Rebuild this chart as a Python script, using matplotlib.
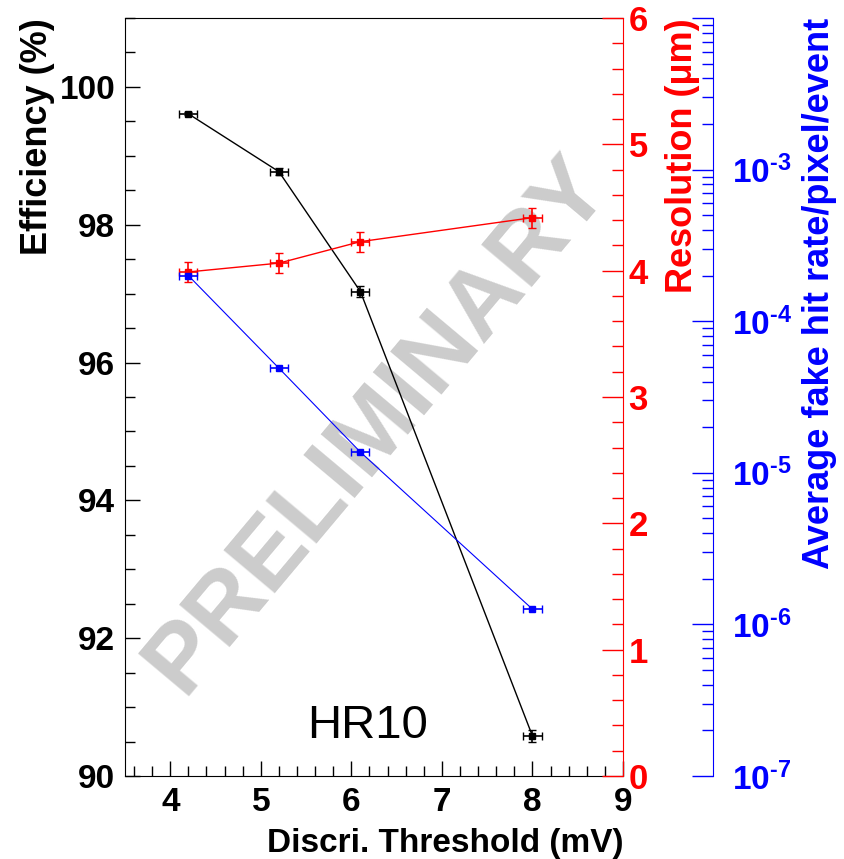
import numpy as np
import matplotlib
matplotlib.use('Agg')
import matplotlib.pyplot as plt
from matplotlib.ticker import MultipleLocator, LogLocator, NullFormatter, FuncFormatter

plt.rcParams['font.family'] = ['Liberation Sans', 'DejaVu Sans']
plt.rcParams['font.weight'] = 'bold'
plt.rcParams['mathtext.fontset'] = 'custom'
plt.rcParams['mathtext.rm'] = 'Liberation Sans:bold'
plt.rcParams['mathtext.bf'] = 'Liberation Sans:bold'
plt.rcParams['mathtext.it'] = 'Liberation Sans:bold'

# measured values for HR10
threshold = [4.2, 5.2, 6.1, 8.0]
thr_err = [0.1, 0.1, 0.1, 0.1]
efficiency = [99.61, 98.77, 97.03, 90.58]
eff_err = [0.02, 0.05, 0.08, 0.09]
resolution = [3.99, 4.06, 4.23, 4.42]
res_err = [0.08, 0.08, 0.08, 0.08]
fake_rate = [2.0e-4, 4.9e-5, 1.37e-5, 1.26e-6]

blue = '#0000ff'
red = '#ff0000'


def log_label(v, pos):
    if v > 0.005:
        return ''
    return '$\\mathbf{10^{\u2010%d}}$' % -int(round(np.log10(v)))


fig = plt.figure(figsize=(8.44, 8.59), dpi=100)
ax1 = fig.add_axes([0.1481, 0.0966, 0.5901, 0.8824])
ax2 = ax1.twinx()
ax3 = ax1.twinx()

# watermark behind everything
ax1.text(6.28, 95.1, 'PRELIMINARY', rotation=50, fontsize=70, color='#cccccc',
         ha='center', va='center', fontweight='bold', zorder=0)
ax1.text(6.18, 90.72, 'HR10', fontsize=34, fontweight='normal', ha='center', va='center')

ax1.errorbar(threshold, efficiency, xerr=thr_err, yerr=eff_err, color='black',
             marker='s', markersize=4, lw=1, capsize=3, elinewidth=1.2)
ax2.errorbar(threshold, resolution, xerr=thr_err, yerr=res_err, color=red,
             marker='s', markersize=4, lw=1, capsize=3, elinewidth=1.2)
ax3.errorbar(threshold, fake_rate, xerr=thr_err, color=blue,
             marker='s', markersize=4, lw=0.8, capsize=3, elinewidth=1.2)

# left axis
ax1.set_xlim(3.5, 9)
ax1.set_ylim(90, 101)
ax1.xaxis.set_major_locator(MultipleLocator(1))
ax1.xaxis.set_minor_locator(MultipleLocator(0.2))
ax1.yaxis.set_major_locator(MultipleLocator(2))
ax1.yaxis.set_minor_locator(MultipleLocator(0.5))
ax1.tick_params(axis='both', which='major', direction='in', length=11, width=1,
                labelsize=24, top=False, right=False)
ax1.tick_params(axis='both', which='minor', direction='in', length=7, width=1,
                top=False, right=False)
ax1.tick_params(axis='x', pad=8)
ax1.tick_params(axis='y', pad=7)
for lab in ax1.get_xticklabels() + ax1.get_yticklabels():
    lab.set_fontweight('bold')
ax1.spines['right'].set_visible(False)
ax1.set_ylabel('Efficiency (%)', fontsize=26, fontweight='bold')
ax1.yaxis.set_label_coords(-0.14, 1.0)
ax1.yaxis.label.set_ha('right')
ax1.set_xlabel('Discri. Threshold (mV)', fontsize=24, fontweight='bold')
ax1.xaxis.set_label_coords(1.0, -0.068)
ax1.xaxis.label.set_ha('right')

# red resolution axis
ax2.set_ylim(0, 6)
ax2.yaxis.set_major_locator(MultipleLocator(1))
ax2.yaxis.set_minor_locator(MultipleLocator(0.2))
for s in ['left', 'top', 'bottom']:
    ax2.spines[s].set_visible(False)
ax2.spines['right'].set_color(red)
ax2.tick_params(axis='y', which='major', direction='in', length=15, width=1,
                colors=red, labelsize=25, pad=4)
ax2.tick_params(axis='y', which='minor', direction='in', length=8, width=1, colors=red)
for lab in ax2.get_yticklabels():
    lab.set_fontweight('bold')
ax2.set_ylabel('Resolution (\u03bcm)', color=red, fontsize=26, fontweight='bold')
ax2.yaxis.set_label_coords(1.084, 1.0)
ax2.yaxis.label.set_ha('right')

# blue fake rate axis
ax3.set_yscale('log')
ax3.set_ylim(1e-7, 1e-2)
ax3.spines['right'].set_position(('axes', 1.1807))
for s in ['left', 'top', 'bottom']:
    ax3.spines[s].set_visible(False)
ax3.spines['right'].set_color(blue)
ax3.yaxis.set_major_locator(LogLocator(base=10, numticks=10))
ax3.yaxis.set_minor_locator(LogLocator(base=10, subs=np.arange(2, 10), numticks=20))
ax3.yaxis.set_minor_formatter(NullFormatter())
ax3.yaxis.set_major_formatter(FuncFormatter(log_label))
ax3.tick_params(axis='y', which='major', direction='in', length=15, width=1,
                colors=blue, labelsize=24, pad=14)
ax3.tick_params(axis='y', which='minor', direction='in', length=8, width=1, colors=blue)
ax3.set_ylabel('Average fake hit rate/pixel/event', color=blue, fontsize=26,
               fontweight='bold')
ax3.yaxis.set_label_coords(1.359, 1.0)
ax3.yaxis.label.set_ha('right')

fig.savefig('out.png', dpi=100)
